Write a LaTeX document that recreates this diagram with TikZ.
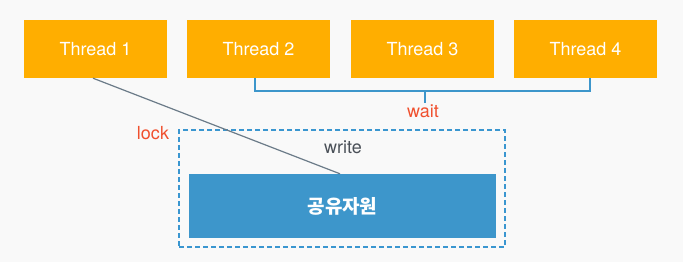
\documentclass[tikz,border=0pt]{standalone}
\usepackage{fontspec}
\setmainfont{TeX Gyre Heros}
\newfontfamily\krfont{Noto Sans CJK KR}
\definecolor{bg}{HTML}{F9F9F9}
\definecolor{thr}{HTML}{FFAE00}
\definecolor{res}{HTML}{3D96CB}
\definecolor{dash}{HTML}{3A96D0}
\definecolor{lbl}{HTML}{F0502E}
\definecolor{gline}{HTML}{6B7B88}
\definecolor{wtxt}{HTML}{4A5058}
\begin{document}
\begin{tikzpicture}[x=1pt,y=-1pt,
  threadbox/.style={fill=thr,text=white,minimum width=143pt,minimum height=58pt,inner sep=0pt,font=\fontsize{18}{21}\selectfont},
  resbox/.style={fill=res,text=white,minimum width=307pt,minimum height=64pt,inner sep=0pt,font=\krfont\bfseries\fontsize{19}{22}\selectfont},
  lockbox/.style={draw=dash,line width=2.4pt,dash pattern=on 5pt off 3pt,minimum width=326pt,minimum height=117pt,inner sep=0pt},
  redlbl/.style={text=lbl,font=\fontsize{18}{21}\selectfont,inner sep=0pt},
  bracket/.style={draw=res,line width=2pt},
]
\useasboundingbox[fill=bg] (0,0) rectangle (683,262);
\node[threadbox] (t1) at (95.5,49) {Thread 1};
\node[threadbox] (t2) at (258.5,49) {Thread 2};
\node[threadbox] (t3) at (422.5,49) {Thread 3};
\node[threadbox] (t4) at (585.5,49) {Thread 4};
\node[lockbox] (lb) at (342,188.5) {};
\node[resbox] (r) at (342.5,206) {공유자원};
\node[text=wtxt,font=\fontsize{18}{21}\selectfont,inner sep=0pt] (w) at (343,147) {write};
\node[redlbl] (lk) at (153,133) {lock};
\node[redlbl] (wt) at (423,111) {wait};
\coordinate (b2) at ([xshift=-3.5pt]t2.south);
\coordinate (b4) at ([xshift=4.5pt]t4.south);
\coordinate (bm) at (425,91);
\coordinate (bt) at (425,103);
\draw[bracket] (b2) |- (bm) -| (b4);
\draw[bracket] (bm) -- (bt);
\draw[gline,line width=1.2pt] ([xshift=-2.5pt]t1.south) -- ([xshift=-2.5pt]r.north);
\end{tikzpicture}
\end{document}
